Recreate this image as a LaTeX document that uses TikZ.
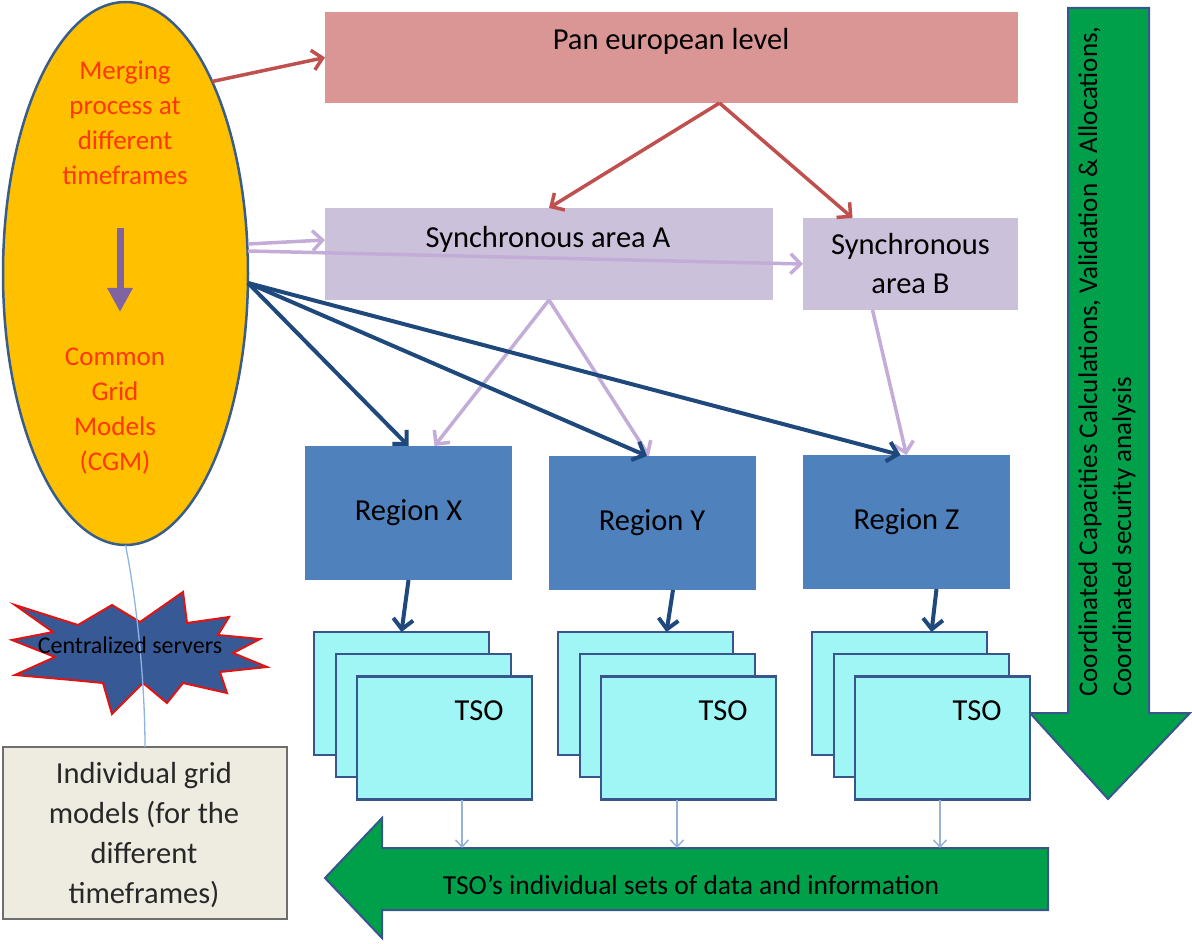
\documentclass[tikz,border=0pt]{standalone}
\usepackage{fontspec}
\setmainfont{Carlito}
\usetikzlibrary{arrows.meta,shapes.geometric,calc}
\definecolor{gold}{RGB}{255,192,0}
\definecolor{ellborder}{RGB}{56,93,138}
\definecolor{otext}{RGB}{255,55,0}
\definecolor{purp}{RGB}{128,100,162}
\definecolor{panfill}{RGB}{217,150,148}
\definecolor{syncfill}{RGB}{204,193,218}
\definecolor{redarr}{RGB}{192,80,77}
\definecolor{lavarr}{RGB}{195,172,215}
\definecolor{navy}{RGB}{31,73,125}
\definecolor{regfill}{RGB}{79,129,189}
\definecolor{tsofill}{RGB}{160,245,245}
\definecolor{tsoborder}{RGB}{56,85,140}
\definecolor{thinarr}{RGB}{149,179,215}
\definecolor{grn}{RGB}{0,160,75}
\definecolor{grnborder}{RGB}{56,85,140}
\definecolor{starfill}{RGB}{55,90,150}
\definecolor{starborder}{RGB}{225,20,20}
\definecolor{indfill}{RGB}{238,236,225}
\definecolor{indborder}{RGB}{110,110,110}
\definecolor{indtext}{RGB}{40,40,40}
\definecolor{linkline}{RGB}{141,179,226}
\tikzset{
  flat/.style={rectangle, inner sep=0pt, outer sep=0pt},
  etext/.style={align=center, text=otext, inner sep=0pt, font=\fontsize{27}{35}\selectfont},
  maintext/.style={font=\fontsize{30.5}{39}\selectfont, text=black, align=center},
  regbox/.style={flat, fill=regfill, minimum width=207pt, minimum height=134pt, maintext},
  tsobox/.style={flat, fill=tsofill, draw=tsoborder, line width=2.5pt, minimum width=175pt, minimum height=123pt},
  barb/.style={-{Straight Barb[length=10pt,width=20pt]}},
  redarrow/.style={draw=redarr, line width=3.5pt, barb},
  lavarrow/.style={draw=lavarr, line width=3.5pt, barb},
  navyarrow/.style={draw=navy, line width=4pt, barb},
  thinarrow/.style={draw=thinarr, line width=1.5pt, -{Straight Barb[length=7pt,width=13pt]}},
  purparrow/.style={draw=purp, line width=7pt, -{Triangle[length=24pt,width=24pt]}},
  grarrow/.style={fill=grn, draw=grnborder, line width=2pt, line join=miter},
}
\begin{document}
\begin{tikzpicture}[x=1pt,y=-1pt]
\useasboundingbox (0,0) rectangle (1192,944);

% ---------- ellipse ----------
\node[ellipse, draw=ellborder, line width=2.5pt, fill=gold, minimum width=245pt, minimum height=543pt, inner sep=0pt, outer sep=0pt] (ell) at (125.5,273.5) {};
\node[etext] (merge) at (125,123) {Merging\\process at\\different\\timeframes};
\node[etext] (cgm) at (115,411) {Common\\Grid\\Models\\(CGM)};
\coordinate (pa) at (120,228);
\coordinate (pb) at (120,312);
\draw[purparrow] (pa) -- (pb);

% ---------- individual grid models box ----------
\node[flat, fill=indfill, draw=indborder, line width=1.5pt, minimum width=284pt, minimum height=172pt] (ind) at (145,833) {};
\node[align=center, text=indtext, font=\fontsize{30.5}{40}\selectfont] (indt) at (144,835) {Individual grid\\models (for the\\different\\timeframes)};

% ---------- star ----------
\draw[fill=starfill, draw=starborder, line width=2pt, line join=miter]
  (15,605) -- (78,625) -- (112,605) -- (140,622) -- (183,592) -- (187,623) -- (229,617) -- (218,635)
  -- (260,639) -- (233,653) -- (267,667) -- (220,672) -- (227,693) -- (183,683) -- (167,703)
  -- (143,683) -- (112,714) -- (103,683) -- (72,680) -- (15,675) -- (55,657) -- (12,640) -- (53,632) -- cycle;
\draw[draw=linkline, line width=1.3pt] (ell.south) .. controls +(12,60) and +(0,-60) .. (ind.north);
\node[font=\fontsize{24}{28}\selectfont, text=black, inner sep=0pt] (srv) at (130,645) {Centralized servers};

% ---------- top boxes ----------
\node[flat, fill=panfill, minimum width=693pt, minimum height=91pt] (pan) at (671.5,57.5) {};
\node[maintext] (pant) at (671,41) {Pan european level};
\node[flat, fill=syncfill, minimum width=448pt, minimum height=92pt] (syncA) at (549,254) {};
\node[maintext] (syncAt) at (548,239) {Synchronous area A};
\node[flat, fill=syncfill, minimum width=215pt, minimum height=92pt, maintext] (syncB) at (910.5,264) {Synchronous\\area B};

% ---------- regions ----------
\node[regbox] (rx) at (408.5,513) {Region X};
\node[regbox] (ry) at (652,523) {Region Y};
\node[regbox] (rz) at (906.5,522) {Region Z};

% ---------- green arrows ----------
\draw[grarrow] (1068,8) -- (1149,8) -- (1149,713) -- (1190,713) -- (1108,799) -- (1030,713) -- (1068,713) -- cycle;
\node[rotate=90, anchor=west, align=left, inner sep=0pt, font=\fontsize{27}{34}\selectfont] (coord) at (1107,697)
  {Coordinated Capacities Calculations, Validation \& Allocations,\\Coordinated security analysis};
\draw[grarrow] (1048,848) -- (382,848) -- (382,818) -- (325,878) -- (382,938) -- (382,910) -- (1048,910) -- cycle;
\node[font=\fontsize{27.5}{32}\selectfont, inner sep=0pt] (tsodata) at (691,885) {TSO’s individual sets of data and information};
\coordinate (gtop) at (700,848);

% ---------- TSO stacks ----------
\foreach \n/\d in {1/0,2/244,3/498} {
  \node[tsobox] (a\n) at (401.5+\d,693.5) {};
  \node[tsobox] (b\n) at (423.5+\d,715.5) {};
  \node[tsobox] (c\n) at (444.5+\d,738) {};
  \node[maintext, inner sep=0pt] (t\n) at (479+\d,711) {TSO};
}
\coordinate (x1) at (462,0);
\coordinate (x2) at (677,0);
\coordinate (x3) at (940,0);
\foreach \n in {1,2,3} {
  \draw[thinarrow] (c\n.south -| x\n) -- (gtop -| x\n);
}

% ---------- connectors ----------
\draw[redarrow] (ell.north east) -- (pan.west);
\draw[redarrow] ([xshift=48pt]pan.south) -- (syncA.north);
\draw[redarrow] ([xshift=48pt]pan.south) -- ([xshift=-58pt]syncB.north);

\coordinate (e2) at (248,244);
\coordinate (e3) at (248,251);
\coordinate (e4) at (248,283);
\draw[lavarrow] (e2) -- ([yshift=14pt]syncA.west);
\draw[lavarrow] (e3) -- (syncB.west);
\draw[lavarrow] (syncA.south) -- ([xshift=26pt]rx.north);
\draw[lavarrow] (syncA.south) -- ([xshift=-3pt]ry.north);
\draw[lavarrow] ([xshift=-38pt]syncB.south) -- (rz.north);

\draw[navyarrow] (e4) -- (rx.north);
\draw[navyarrow] (e4) -- ([xshift=-5pt]ry.north);
\draw[navyarrow] (e4) -- ([xshift=-6pt]rz.north);

\draw[navyarrow] (rx.south) -- (a1.north);
\draw[navyarrow] ([xshift=21pt]ry.south) -- ([xshift=21pt]a2.north);
\draw[navyarrow] ([xshift=30pt]rz.south) -- ([xshift=32pt]a3.north);
\end{tikzpicture}
\end{document}
